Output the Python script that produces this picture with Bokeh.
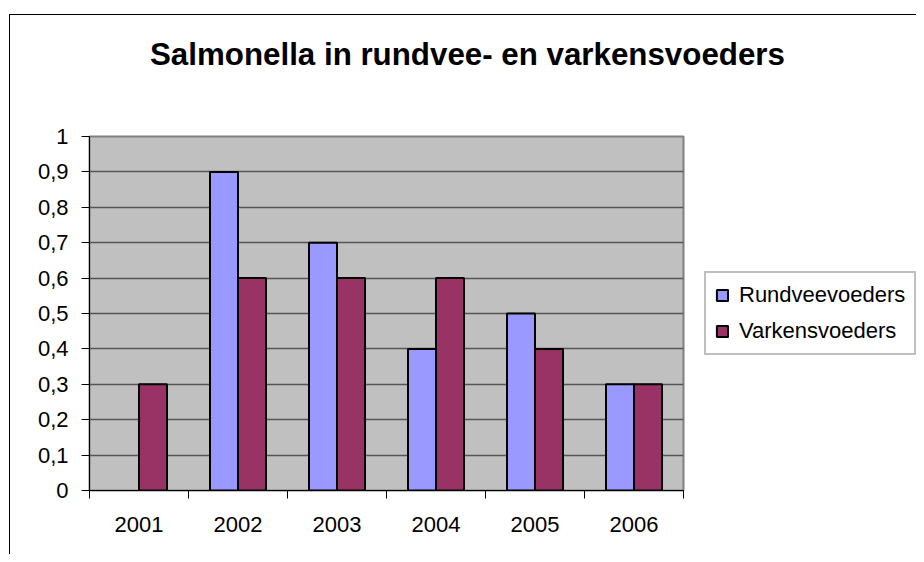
from bokeh.plotting import figure
from bokeh.models import Range1d, FixedTicker, Legend, LegendItem, Div
from bokeh.layouts import column, row
from bokeh.embed import file_html
from bokeh.resources import INLINE

# ---- data ----
years = ["2001", "2002", "2003", "2004", "2005", "2006"]
rundvee = [0.0, 0.9, 0.7, 0.4, 0.5, 0.3]
varkens = [0.3, 0.6, 0.6, 0.6, 0.4, 0.3]
series_names = ["Rundveevoeders", "Varkensvoeders"]
y_ticks = [0, 0.1, 0.2, 0.3, 0.4, 0.5, 0.6, 0.7, 0.8, 0.9, 1]
y_tick_labels = ["0", "0,1", "0,2", "0,3", "0,4", "0,5", "0,6", "0,7", "0,8", "0,9", "1"]
title_text = "Salmonella in rundvee- en varkensvoeders"

colors = ["#9999FF", "#993366"]
FONT = "Liberation Sans"

n = len(years)
centers = [i + 0.5 for i in range(n)]
bw = 0.283

# ---- title ----
title_div = Div(
    text=('<div style="font-family:\'Liberation Sans\',Arial,sans-serif;font-weight:bold;'
          'font-size:31.3px;line-height:36px;white-space:nowrap;padding-left:140px;'
          'padding-top:22px;color:black">' + title_text + '</div>'),
    width=906, height=80, margin=0)

# ---- main chart ----
p = figure(width=675, height=459, x_range=Range1d(0, n), y_range=Range1d(0, 1),
           min_border_left=79, min_border_right=2, min_border_top=41, min_border_bottom=64,
           output_backend="svg", toolbar_location=None)
p.background_fill_color = "#C0C0C0"
p.border_fill_color = "white"
p.outline_line_color = "#808080"
p.outline_line_width = 2

def outline(vals):
    return ["black" if v > 0 else None for v in vals]

p.vbar(x=[c - bw / 2 for c in centers], top=rundvee, width=bw,
       fill_color=colors[0], line_color=outline(rundvee), line_width=2)
p.vbar(x=[c + bw / 2 for c in centers], top=varkens, width=bw,
       fill_color=colors[1], line_color=outline(varkens), line_width=2)

p.xgrid.grid_line_color = None
p.ygrid.ticker = FixedTicker(ticks=y_ticks)
p.ygrid.grid_line_color = "#555555"
p.ygrid.grid_line_width = 1.5

ya = p.yaxis[0]
ya.ticker = FixedTicker(ticks=y_ticks)
ya.major_label_overrides = {t: l for t, l in zip(y_ticks, y_tick_labels)}
ya.major_tick_out = 8
ya.major_tick_in = 0
ya.minor_tick_line_color = None
ya.major_tick_line_color = "black"
ya.axis_line_color = "black"
ya.major_label_standoff = 13
ya.major_label_text_font = FONT
ya.major_label_text_font_size = "22px"
ya.major_label_text_color = "black"

xa = p.xaxis[0]
xa.ticker = FixedTicker(ticks=centers, minor_ticks=list(range(n + 1)))
xa.major_label_overrides = {c: y for c, y in zip(centers, years)}
xa.major_tick_line_color = None
xa.major_tick_out = 0
xa.major_tick_in = 0
xa.minor_tick_line_color = "black"
xa.minor_tick_out = 8
xa.minor_tick_in = 0
xa.axis_line_color = "black"
xa.major_label_standoff = 18
xa.major_label_text_font = FONT
xa.major_label_text_font_size = "22px"
xa.major_label_text_color = "black"

# ---- legend panel: key glyphs only (no drawable extent), styled like the series ----
p2 = figure(width=231, height=459, x_range=Range1d(0, 1), y_range=Range1d(0, 1),
            x_axis_type=None, y_axis_type=None, min_border=0,
            output_backend="svg", toolbar_location=None)
p2.outline_line_color = None
p2.background_fill_color = "white"
p2.border_fill_color = "white"
no_extent = [float("nan")] * n
d1 = p2.vbar(x=centers, top=no_extent, width=bw, fill_color=colors[0], line_color="black",
             line_width=2)
d2 = p2.vbar(x=centers, top=no_extent, width=bw, fill_color=colors[1], line_color="black",
             line_width=2)

legend = Legend(items=[LegendItem(label=series_names[0], renderers=[d1]),
                       LegendItem(label=series_names[1], renderers=[d2])],
                location=(19, 135), orientation="vertical",
                glyph_width=14, glyph_height=14, label_standoff=10,
                padding=9, spacing=10, margin=0,
                border_line_color="#808080", border_line_width=2,
                background_fill_color="white", background_fill_alpha=1,
                label_text_font=FONT, label_text_font_size="22px",
                label_text_color="black")
p2.add_layout(legend)

layout = column(title_div, row(p, p2, spacing=0), spacing=0)
layout.styles = {"margin-left": "9px", "margin-top": "14px",
                 "border-left": "1px solid black", "border-top": "1px solid black"}

open("out.html", "w").write(file_html(layout, INLINE))
